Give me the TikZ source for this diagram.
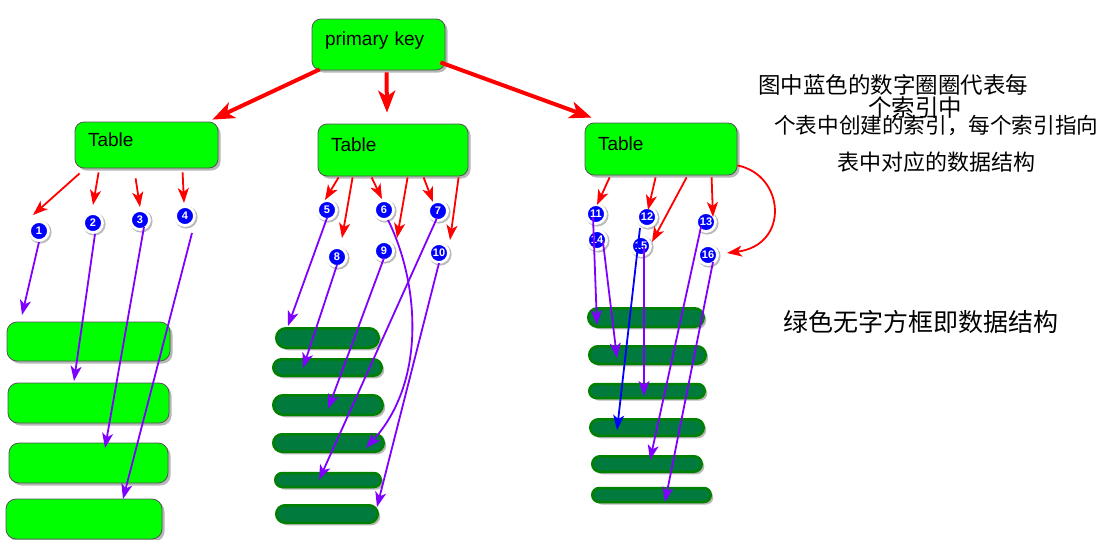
\documentclass[tikz,border=0pt]{standalone}
\usepackage{fontspec}
\setmainfont{Liberation Sans}
\newfontfamily\cjk{Noto Sans CJK SC}
\usetikzlibrary{shadows,arrows.meta,calc,shapes.misc}
\definecolor{brightgreen}{HTML}{00FF00}
\definecolor{pillfill}{HTML}{007A3D}
\definecolor{pilledge}{HTML}{008000}
\definecolor{violetline}{HTML}{8000FF}
\definecolor{boxedge}{HTML}{555555}
\tikzset{
  gshadow/.style={drop shadow={shadow xshift=2.5pt,shadow yshift=-2.5pt,opacity=0.4,fill=black!70}},
  tablebox/.style={draw=boxedge, line width=0.8pt, fill=brightgreen, rounded corners=9pt, gshadow,
    font=\fontsize{19}{22}\selectfont, align=left, inner xsep=13pt, inner ysep=0pt,
    text height=14pt, text depth=12pt},
  databox/.style={draw=boxedge, line width=0.8pt, fill=brightgreen, rounded corners=10pt, gshadow, inner sep=0pt},
  pill/.style={rounded rectangle, draw=pilledge, line width=2.5pt, fill=pillfill, gshadow, inner sep=0pt},
  num/.style={circle, fill=blue, draw=white, line width=2.8pt, minimum size=19pt, inner sep=0pt, text=white,
    font=\bfseries\fontsize{11}{11}\selectfont,
    drop shadow={shadow scale=1.2, shadow xshift=1pt,shadow yshift=-1pt,opacity=0.45,fill=black!60}},
  bigred/.style={red, line width=4pt, -{Stealth[length=22pt,width=17pt,inset=6pt]}},
  redarr/.style={red, line width=1.8pt, -{Stealth[length=15pt,width=11pt,inset=4pt]}},
  purarr/.style={violetline, line width=1.8pt, -{Stealth[length=15pt,width=11pt,inset=4pt]}},
  bluearr/.style={blue, line width=1.8pt, -{Stealth[length=15pt,width=11pt,inset=4pt]}},
  note/.style={anchor=west, inner sep=0pt},
}
\begin{document}
\begin{tikzpicture}[x=1pt,y=-1pt]
\fill[white] (0,0) rectangle (1101,539);
\useasboundingbox (0,0) rectangle (1101,539);

% main boxes
\node[tablebox, minimum height=51pt, text width=107pt] (pk) at (378.5,44.5) {primary key};
\node[tablebox, minimum height=46pt, text width=117pt] (t1) at (146.5,145) {Table};
\node[tablebox, minimum height=52pt, text width=124pt] (t2) at (393,150) {Table};
\node[tablebox, minimum height=52pt, text width=126pt] (t3) at (661,149) {Table};

% data boxes, left
\node[databox, minimum width=163pt, minimum height=39pt] (d1) at (88.5,341.5) {};
\node[databox, minimum width=161pt, minimum height=40pt] (d2) at (88.5,403) {};
\node[databox, minimum width=159pt, minimum height=40pt] (d3) at (88.5,463) {};
\node[databox, minimum width=156pt, minimum height=40pt] (d4) at (84,519) {};

% data pills, middle
\node[pill, minimum width=102.5pt, minimum height=19.5pt] (m1) at (327.5,338) {};
\node[pill, minimum width=108.5pt, minimum height=16.5pt] (m2) at (327.5,367.5) {};
\node[pill, minimum width=109.5pt, minimum height=19.5pt] (m3) at (328,405) {};
\node[pill, minimum width=110.5pt, minimum height=17.5pt] (m4) at (328.5,443) {};
\node[pill, minimum width=105.5pt, minimum height=14pt] (m5) at (328,480) {};
\node[pill, minimum width=101.5pt, minimum height=17.5pt] (m6) at (327,514) {};

% data pills, right
\node[pill, minimum width=115.5pt, minimum height=18.5pt] (r1) at (646,317.5) {};
\node[pill, minimum width=116.5pt, minimum height=17.5pt] (r2) at (647.5,355) {};
\node[pill, minimum width=115.5pt, minimum height=14pt] (r3) at (647,391) {};
\node[pill, minimum width=113.5pt, minimum height=16.5pt] (r4) at (647,427.5) {};
\node[pill, minimum width=109.5pt, minimum height=15.5pt] (r5) at (647,464) {};
\node[pill, minimum width=118.5pt, minimum height=14pt] (r6) at (651.5,495) {};

% number circles
\node[num] (c1) at (39,231) {1};
\node[num] (c2) at (93,223) {2};
\node[num] (c3) at (140,220) {3};
\node[num] (c4) at (185,216) {4};
\node[num] (c5) at (327,210) {5};
\node[num] (c6) at (384,210) {6};
\node[num] (c7) at (438,211) {7};
\node[num] (c8) at (337,257) {8};
\node[num] (c9) at (384,251) {9};
\node[num] (c10) at (439,253) {10};
\node[num] (c11) at (596,214) {11};
\node[num] (c12) at (647,217) {12};
\node[num] (c13) at (706,222) {13};
\node[num] (c14) at (597,240) {14};
\node[num] (c15) at (641,246) {15};
\node[num] (c16) at (708,255) {16};

% arrow end points inside the data structures
\coordinate (e1) at (22,315);
\coordinate (e2) at (74,381);
\coordinate (e3) at (105,448);
\coordinate (e4) at (123,499);
\coordinate (e5) at (288,326);
\coordinate (e8) at (303,368);
\coordinate (e9) at (328,409);
\coordinate (e6) at (366,448);
\coordinate (e7) at (319,480);
\coordinate (e10) at (377,507);
\coordinate (e11) at (597,325);
\coordinate (e14) at (617,358);
\coordinate (e12) at (617,430);
\coordinate (e15) at (644,396);
\coordinate (e13) at (650,460);
\coordinate (e16) at (665,502);

% index -> data structure
\draw[purarr] ($(c1)+(0,11)$) -- (e1);
\draw[purarr] ($(c2)+(2,11)$) -- (e2);
\draw[purarr] ($(c3)+(4,7)$) -- (e3);
\draw[purarr] ($(c4)+(7,17)$) -- (e4);
\draw[purarr] ($(c5)+(0,8)$) -- (e5);
\draw[purarr] ($(c8)+(0,8)$) -- (e8);
\draw[purarr] ($(c9)+(0,7)$) -- (e9);
\draw[purarr] ($(c6)+(4,10)$) .. controls (418,280) and (428,380) .. (e6);
\draw[purarr] ($(c7)+(-1,7)$) -- (e7);
\draw[purarr] ($(c10)+(0,10)$) -- (e10);
\draw[purarr] ($(c11)+(-3,3)$) -- (e11);
\draw[purarr] ($(c14)+(6,2)$) -- (e14);
\draw[bluearr] ($(c12)+(-7,11)$) -- (e12);
\draw[purarr] ($(c15)+(3,2)$) -- (e15);
\draw[purarr] ($(c13)+(-5,5)$) -- (e13);
\draw[purarr] ($(c16)+(5,7)$) -- (e16);

% table -> index
\draw[redarr] ($(t1.south west)+(5,5)$) -- ($(c1)+(-6,-16)$);
\draw[redarr] ($(t1.south west)+(24,4)$) -- ($(c2)+(0,-18)$);
\draw[redarr] ($(t1.south west)+(61,10)$) -- ($(c3)+(0,-13)$);
\draw[redarr] ($(t1.south west)+(108,4)$) -- ($(c4)+(-1,-13)$);

\draw[redarr] ($(t2.south west)+(21,1)$) -- ($(c5)+(-2,-10)$);
\draw[redarr] ($(t2.south west)+(35,1)$) -- ($(c8)+(5,-19)$);
\draw[redarr] ($(t2.south west)+(54,1)$) -- ($(c6)+(-2,-11)$);
\draw[redarr] ($(t2.south west)+(90,1)$) -- ($(c9)+(13,-13)$);
\draw[redarr] ($(t2.south west)+(106,1)$) -- ($(c7)+(-5,-9)$);
\draw[redarr] ($(t2.south west)+(141,1)$) -- ($(c10)+(11,-13)$);

\draw[redarr] ($(t3.south west)+(25,2)$) -- ($(c11)+(1,-9)$);
\draw[redarr] ($(t3.south west)+(71,2)$) -- ($(c12)+(1,-7)$);
\draw[redarr] ($(t3.south west)+(102,2)$) -- ($(c15)+(11,-4)$);
\draw[redarr] ($(t3.south west)+(127,2)$) -- ($(c13)+(7,-5)$);
\draw[redarr] ($(t3.south east)+(0,-10)$) .. controls (785,175) and (790,245) .. ($(c16)+(19,-2)$);

% primary key -> tables
\draw[bigred] ($(pk.south west)+(8,-1)$) -- ($(t1.north east)+(-6,-2)$);
\draw[bigred] ($(pk.south)+(8,2)$) -- ($(t2.north)+(-6,-11)$);
\draw[bigred] ($(pk.south east)+(-5,-8)$) -- ($(t3.north west)+(7,-5)$);

% notes
\node[note, font=\cjk\fontsize{22.5}{25}\selectfont] (n1) at (758,85) {图中蓝色的数字圈圈代表每};
\node[note, font=\cjk\fontsize{23.5}{25}\selectfont] (n2) at (868,108) {个索引中};
\node[note, font=\cjk\fontsize{21.6}{25}\selectfont] (n3) at (774,126) {个表中创建的索引，每个索引指向};
\node[note, font=\cjk\fontsize{22}{25}\selectfont] (n4) at (837,162) {表中对应的数据结构};
\node[note, font=\cjk\fontsize{25}{28}\selectfont] (n5) at (783,322) {绿色无字方框即数据结构};
\end{tikzpicture}
\end{document}
